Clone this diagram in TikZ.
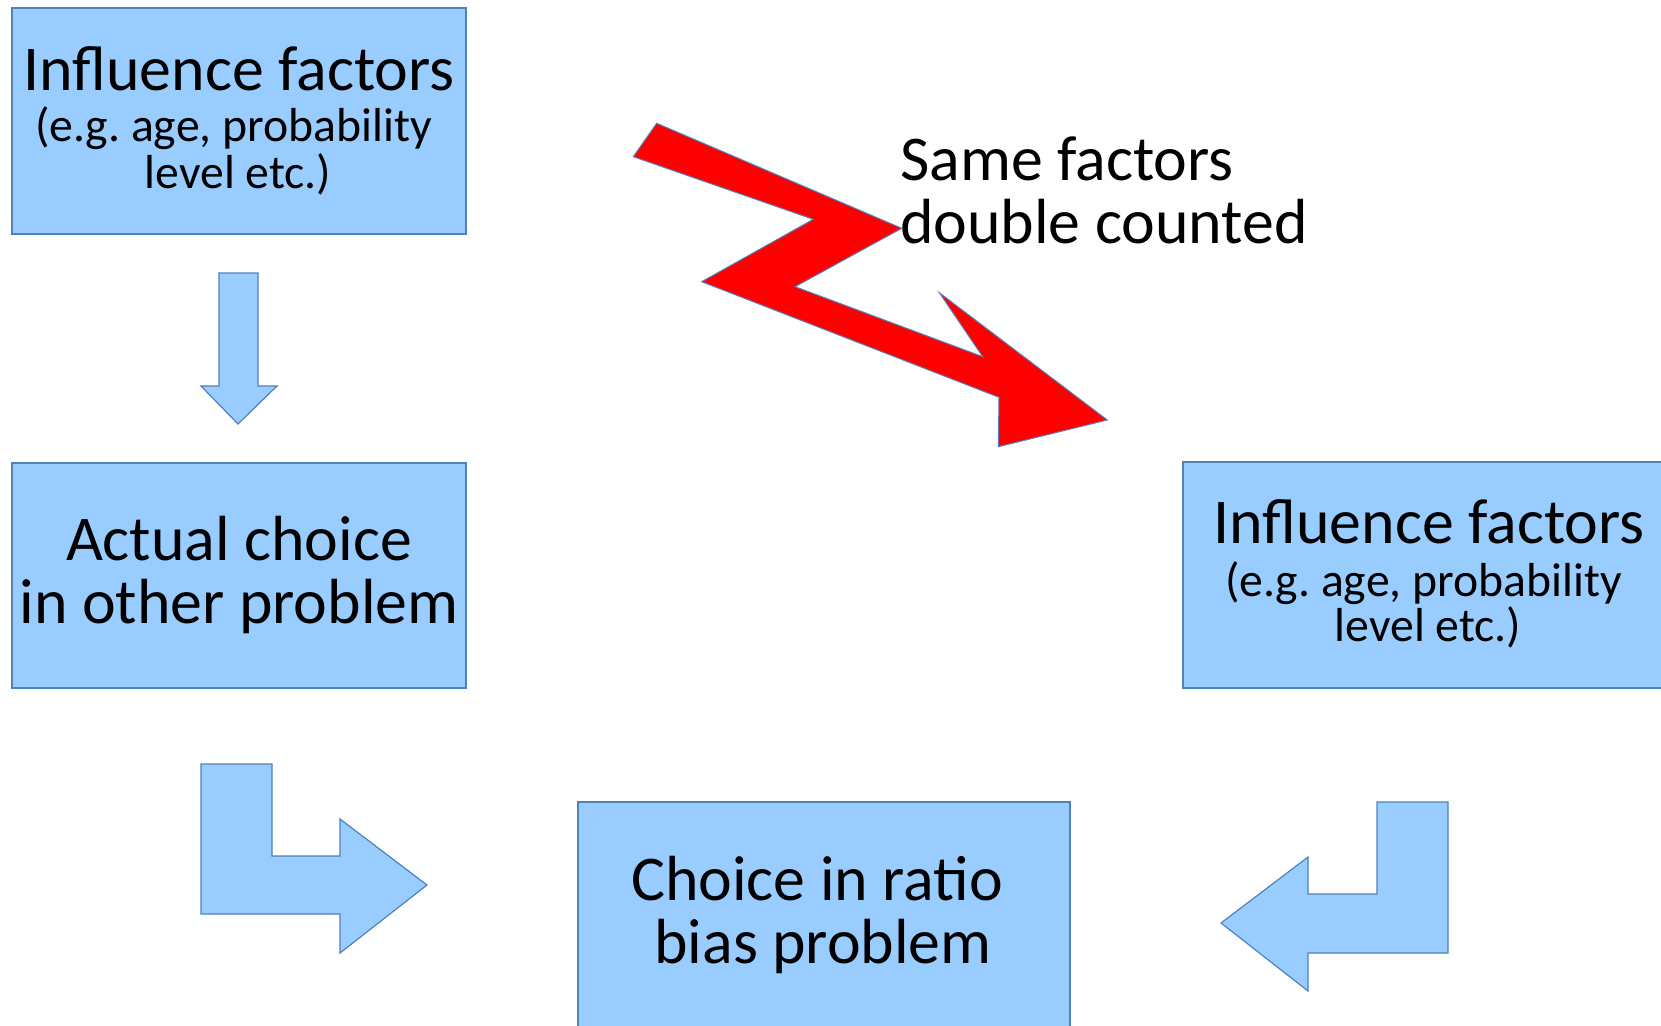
\documentclass[tikz,border=0pt]{standalone}
\usepackage{fontspec}
\setmainfont{Carlito}
\frenchspacing
\definecolor{boxfill}{HTML}{99CCFF}
\definecolor{boxline}{HTML}{4F81BD}
\begin{document}
\begin{tikzpicture}[x=1pt,y=-1pt]
\tikzset{
 box/.style={draw=boxline, fill=boxfill, line width=1.2pt, rectangle, inner sep=0pt},
 big/.style={font=\fontsize{63.8}{63.8}\selectfont, anchor=base, inner sep=0pt},
 small/.style={font=\fontsize{47.7}{47.7}\selectfont, anchor=base, inner sep=0pt},
 blockarrow/.style={draw=boxline, fill=boxfill, line width=1.2pt, line join=miter},
 bolt/.style={draw=boxline, fill=red, line width=1pt, line join=miter}
}
\clip (0,0) rectangle (1661,1025);
\fill[white] (0,0) rectangle (1661,1025);

% boxes
\node[box, minimum width=454pt, minimum height=226pt] (b1) at (239,121) {};
\node[box, minimum width=454pt, minimum height=225pt] (b2) at (239,575.5) {};
\node[box, minimum width=492pt, minimum height=226pt] (b3) at (1429,575) {};
\node[box, minimum width=492pt, minimum height=243pt] (b4) at (824,923.5) {};

% texts
\node[big]   (t1a) at (239,90)  {Influence factors};
\node[small] (t1b) at (233.5,141) {(e.g.\ age, probability};
\node[small] (t1c) at (238,188) {level etc.)};

\node[big] (t2a) at (239,560) {Actual choice};
\node[big] (t2b) at (239,623) {in other problem};

\node[big]   (t3a) at (1429,543) {Influence factors};
\node[small] (t3b) at (1423.5,596) {(e.g.\ age, probability};
\node[small] (t3c) at (1428,641) {level etc.)};

\node[big] (t4a) at (817,900) {Choice in ratio};
\node[big] (t4b) at (823,963) {bias problem};

\node[big, anchor=base west] (s1) at (900,180) {Same factors};
\node[big, anchor=base west] (s2) at (900,243) {double counted};

% down arrow
\draw[blockarrow] (219,273) -- (258,273) -- (258,386) -- (277,386) -- (238,424)
  -- (201,386) -- (219,386) -- cycle;

% left bent arrow
\draw[blockarrow] (201,764) -- (272,764) -- (272,856) -- (340,856) -- (340,819)
  -- (427,885) -- (340,953) -- (340,914) -- (201,914) -- cycle;

% right bent arrow
\draw[blockarrow] (1448,802) -- (1448,953) -- (1308,953) -- (1308,991) -- (1221,923)
  -- (1308,857) -- (1308,894) -- (1377,894) -- (1377,802) -- cycle;

% lightning arrow
\draw[bolt] (656.7,123.3) -- (901.7,228.3) -- (795,286.7) -- (982.7,356.7)
  -- (939.3,292.7) -- (1107.3,420) -- (998.3,446.7) -- (999,397.3)
  -- (701.7,281.7) -- (813.3,219.3) -- (633.3,156.7) -- cycle;
\end{tikzpicture}
\end{document}
